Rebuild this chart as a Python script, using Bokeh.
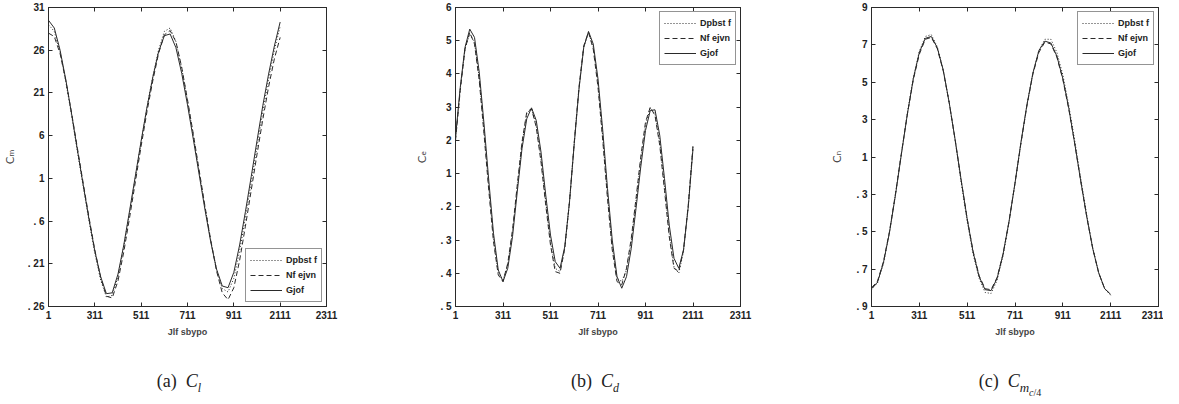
from bokeh.plotting import figure
from bokeh.layouts import row, column
from bokeh.models import LinearAxis, FixedTicker, Div
from bokeh.embed import file_html
from bokeh.resources import INLINE

# ---------------- data ----------------
series_names = ["Dpbst f", "Nf ejvn", "Gjof"]
x_label = "Jlf sbypo"
x_ticks = [0, 200, 400, 600, 800, 1000, 1200]
x_tick_labels = ["1", "311", "511", "711", "911", "2111", "2311"]

# panel (a)
xa = list(range(0, 1001, 25))
a_coarse = [18.0, 17.2, 14.8, 11.3, 7.3, 3.1, -1.0, -5.0, -8.8, -11.9, -13.9, -13.7, -11.5, -8.0, -4.0,
            0.1, 4.3, 8.3, 11.9, 15.0, 17.2, 17.6, 16.0, 12.9, 9.1, 5.0, 0.8, -3.3, -7.2, -10.6, -12.9,
            -13.3, -11.7, -8.5, -4.6, -0.5, 3.7, 7.8, 11.6, 15.0, 17.8]
a_medium = [17.0, 16.6, 14.6, 11.4, 7.6, 3.5, -0.6, -4.6, -8.4, -11.6, -13.8, -14.0, -12.0, -8.6, -4.6,
            -0.4, 3.8, 7.8, 11.4, 14.6, 16.8, 17.3, 16.0, 13.0, 9.2, 5.2, 1.0, -3.2, -7.2, -10.8, -13.4,
            -14.2, -12.8, -9.6, -5.6, -1.4, 2.8, 6.9, 10.7, 14.0, 16.5]
a_fine = [18.5, 17.6, 15.0, 11.5, 7.5, 3.3, -0.8, -4.8, -8.5, -11.5, -13.5, -13.4, -11.2, -7.8, -3.8,
          0.3, 4.4, 8.3, 11.8, 14.8, 16.7, 16.9, 15.3, 12.3, 8.6, 4.6, 0.5, -3.6, -7.4, -10.6, -12.6,
          -12.8, -11.0, -7.8, -3.9, 0.2, 4.4, 8.5, 12.2, 15.5, 18.3]
a_yticks = [-15, -10, -5, 0, 5, 10, 15, 20]
a_ytick_labels = [". 26", ". 21", ". 6", "1", "6", "21", "26", "31"]

# panel (b)
xb = list(range(0, 1001, 20))
b_coarse = [1.0, 2.55, 3.75, 4.2, 3.95, 2.9, 1.3, -0.4, -1.95, -3.0, -3.2, -2.75, -1.75, -0.4, 0.9,
            1.8, 1.97, 1.45, 0.45, -0.85, -2.05, -2.85, -2.95, -2.25, -0.85, 0.92, 2.58, 3.82, 4.25,
            3.8, 2.7, 1.1, -0.65, -2.2, -3.15, -3.25, -2.9, -2.05, -0.85, 0.4, 1.45, 1.97, 1.8, 0.95,
            -0.4, -1.8, -2.8, -3.0, -2.35, -1.0, 0.8]
b_medium = [1.0, 2.5, 3.75, 4.25, 3.9, 2.8, 1.2, -0.5, -2.05, -3.05, -3.25, -2.7, -1.7, -0.35, 0.95,
            1.85, 1.95, 1.4, 0.35, -0.95, -2.15, -2.95, -3.0, -2.25, -0.85, 0.95, 2.6, 3.85, 4.25,
            3.75, 2.6, 1.0, -0.75, -2.3, -3.25, -3.35, -2.85, -1.95, -0.75, 0.5, 1.55, 2.0, 1.75, 0.85,
            -0.5, -1.9, -2.85, -2.95, -2.3, -0.95, 0.85]
b_fine = [1.1, 2.6, 3.8, 4.35, 4.1, 3.05, 1.5, -0.2, -1.8, -2.9, -3.25, -2.85, -1.9, -0.55, 0.75,
          1.65, 1.98, 1.6, 0.65, -0.65, -1.85, -2.65, -2.85, -2.2, -0.85, 0.9, 2.55, 3.8, 4.28,
          3.9, 2.85, 1.3, -0.45, -2.0, -3.1, -3.45, -3.1, -2.25, -1.05, 0.2, 1.3, 1.9, 1.92, 1.15,
          -0.15, -1.55, -2.55, -2.85, -2.3, -1.0, 0.75]
b_yticks = [-4, -3, -2, -1, 0, 1, 2, 3, 4, 5]
b_ytick_labels = [". 5", ". 4", ". 3", ". 2", "1", "2", "3", "4", "5", "6"]

# panel (c)
xc = list(range(0, 1001, 25))
c_coarse = [-7.1, -6.75, -5.7, -4.05, -2.0, 0.2, 2.35, 4.25, 5.65, 6.45, 6.55, 5.9, 4.65, 2.9, 0.85,
            -1.35, -3.45, -5.2, -6.5, -7.25, -7.3, -6.6, -5.3, -3.5, -1.4, 0.75, 2.8, 4.5, 5.7, 6.3,
            6.3, 5.6, 4.4, 2.75, 0.85, -1.15, -3.1, -4.85, -6.2, -7.05, -7.4]
c_medium = [-7.0, -6.65, -5.6, -4.0, -2.0, 0.2, 2.3, 4.15, 5.5, 6.3, 6.4, 5.8, 4.6, 2.9, 0.9,
            -1.25, -3.3, -5.05, -6.35, -7.05, -7.1, -6.45, -5.2, -3.45, -1.4, 0.75, 2.75, 4.45, 5.6,
            6.15, 6.05, 5.35, 4.15, 2.55, 0.7, -1.3, -3.2, -4.9, -6.2, -7.05, -7.35]
c_fine = [-7.05, -6.7, -5.65, -4.05, -2.05, 0.15, 2.3, 4.2, 5.6, 6.35, 6.45, 5.85, 4.65, 2.9, 0.9,
          -1.25, -3.3, -5.1, -6.4, -7.1, -7.15, -6.5, -5.2, -3.45, -1.4, 0.8, 2.8, 4.5, 5.7, 6.2,
          6.1, 5.4, 4.2, 2.6, 0.7, -1.3, -3.2, -4.9, -6.2, -7.05, -7.35]
c_yticks = [-8, -6, -4, -2, 0, 2, 4, 6, 8]
c_ytick_labels = [". 9", ". 7", ". 5", ". 3", "1", "3", "5", "7", "9"]

INK = "#2a2a2a"
DASHES = ["1 2", "5 3", "solid"]


def box_axis(ticks):
    return LinearAxis(ticker=FixedTicker(ticks=ticks), major_tick_in=4, major_tick_out=0,
                      minor_tick_line_color=None, major_label_text_font_size="0px",
                      major_label_text_color=None, major_label_text_alpha=0,
                      major_label_standoff=0, axis_line_color=INK, major_tick_line_color=INK)


def make_panel(x, ys, yticks, ylabels, ylabel, width, bl, br, legend_loc, label_standoff):
    p = figure(width=width, height=352, x_range=(0, 1200), y_range=(yticks[0], yticks[-1]),
               output_backend="svg", toolbar_location=None,
               min_border_left=bl, min_border_right=br, min_border_top=7, min_border_bottom=46)
    p.xgrid.visible = False
    p.ygrid.visible = False
    p.outline_line_color = INK
    p.outline_line_width = 1
    p.background_fill_color = "white"
    p.border_fill_color = "white"

    for y, name, dash in zip(ys, series_names, DASHES):
        p.line(x, y, line_color=INK, line_width=1, line_dash=dash, legend_label=name)

    p.xaxis.ticker = FixedTicker(ticks=x_ticks)
    p.yaxis.ticker = FixedTicker(ticks=yticks)
    p.xaxis.major_label_overrides = dict(zip(x_ticks, x_tick_labels))
    p.yaxis.major_label_overrides = dict(zip(yticks, ylabels))
    for ax in (p.xaxis[0], p.yaxis[0]):
        ax.major_tick_in = 4
        ax.major_tick_out = 0
        ax.minor_tick_line_color = None
        ax.axis_line_color = INK
        ax.major_tick_line_color = INK
        ax.major_label_text_font = "Liberation Sans"
        ax.major_label_text_font_style = "bold"
        ax.major_label_text_font_size = "10px"
        ax.major_label_text_color = "#222"
        ax.major_label_standoff = 4
    p.xaxis.axis_label = x_label
    p.xaxis.axis_label_text_font = "Liberation Sans"
    p.xaxis.axis_label_text_font_style = "bold"
    p.xaxis.axis_label_text_font_size = "9px"
    p.xaxis.axis_label_standoff = 5
    p.yaxis.axis_label = ylabel
    p.yaxis.axis_label_text_font = "DejaVu Sans"
    p.yaxis.axis_label_text_font_style = "normal"
    p.yaxis.axis_label_text_font_size = "11px"
    p.yaxis.axis_label_standoff = label_standoff

    # box ticks on top and right (MATLAB style)
    p.add_layout(box_axis(x_ticks), "above")
    p.add_layout(box_axis(yticks), "right")

    lg = p.legend[0]
    lg.location = legend_loc
    lg.margin = 4
    lg.padding = 4
    lg.spacing = 1
    lg.glyph_width = 32
    lg.glyph_height = 14
    lg.label_height = 14
    lg.label_standoff = 4
    lg.label_text_font = "Liberation Sans"
    lg.label_text_font_style = "bold"
    lg.label_text_font_size = "9px"
    lg.label_text_color = "#222"
    lg.border_line_color = INK
    lg.border_line_width = 1
    lg.background_fill_color = "white"
    lg.background_fill_alpha = 1.0
    return p


pa = make_panel(xa, [a_coarse, a_medium, a_fine], a_yticks, a_ytick_labels, "C\u2098",
                392, 39, 66, "bottom_right", 8)
pb = make_panel(xb, [b_coarse, b_medium, b_fine], b_yticks, b_ytick_labels, "C\u2091",
                390, 63, 42, "top_right", 8)
pc = make_panel(xc, [c_coarse, c_medium, c_fine], c_yticks, c_ytick_labels, "C\u2099",
                381, 89, 5, "top_right", 9)

cap_style = ("position:absolute; top:12px; transform:translateX(-50%); white-space:nowrap; "
             "font-family:'Liberation Serif','DejaVu Serif',serif; font-size:18px; color:#222;")
captions = Div(width=1163, height=36, text=(
    "<div style='position:relative; width:1163px; height:36px;'>"
    f"<span style=\"{cap_style} left:174px;\">(a)&nbsp; <i>C</i><sub style='font-size:12px'><i>l</i></sub></span>"
    f"<span style=\"{cap_style} left:590px;\">(b)&nbsp; <i>C</i><sub style='font-size:12px'><i>d</i></sub></span>"
    f"<span style=\"{cap_style} left:1005px;\">(c)&nbsp; <i>C</i><sub style='font-size:13px'><i>m</i>"
    "<sub style='font-size:10px'><i>c</i>/4</sub></sub></span>"
    "</div>"))

layout = column(row(pa, pb, pc), captions)
open("out.html", "w").write(file_html(layout, INLINE))
